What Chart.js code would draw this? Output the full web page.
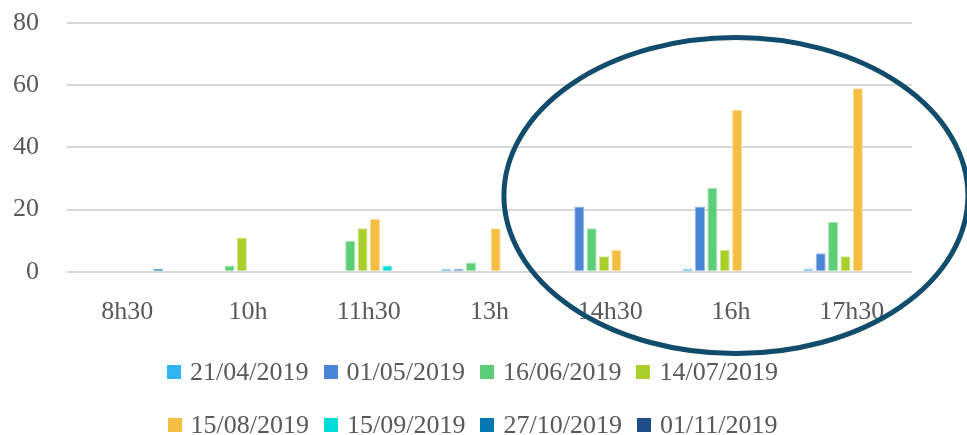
<!DOCTYPE html>
<html>
<head>
<meta charset="utf-8">
<script src="https://cdn.jsdelivr.net/npm/chart.js@4"></script>
<style>
  html, body { margin: 0; padding: 0; background: #ffffff; }
  #wrap { position: relative; width: 967px; height: 435px; overflow: hidden; }
  #legend { position: absolute; left: 0; top: 0; width: 967px; height: 435px; pointer-events: none;
            font-family: "Liberation Serif", serif; font-size: 26px; color: #595959; }
  .lrow { position: absolute; left: 0; width: 945px; display: flex; justify-content: center; line-height: 26px; height: 26px; }
  .litem { display: flex; align-items: center; margin-right: 15px; white-space: nowrap; }
  .litem:last-child { margin-right: 0; }
  .lbox { width: 14px; height: 14px; margin-right: 9px; display: inline-block; }
</style>
</head>
<body>
<div id="wrap">
  <canvas id="c" width="967" height="435"></canvas>
  <div id="legend"></div>
</div>
<script>
// ---- data ----
const categories = ["8h30", "10h", "11h30", "13h", "14h30", "16h", "17h30"];
const seriesLabels = ["21/04/2019", "01/05/2019", "16/06/2019", "14/07/2019",
                      "15/08/2019", "15/09/2019", "27/10/2019", "01/11/2019"];
const s_21_04 = [0, 0, 0, 1, 0, 1, 1];
const s_01_05 = [0, 0, 0, 1, 21, 21, 6];
const s_16_06 = [0, 2, 10, 3, 14, 27, 16];
const s_14_07 = [0, 11, 14, 0, 5, 7, 5];
const s_15_08 = [0, 0, 17, 14, 7, 52, 59];
const s_15_09 = [0, 0, 2, 0, 0, 0, 0];
const s_27_10 = [1, 0, 0, 0, 0, 0, 0];
const s_01_11 = [0, 0, 0, 0, 0, 0, 0];
const yTicks = [0, 20, 40, 60, 80];

const seriesValues = [s_21_04, s_01_05, s_16_06, s_14_07, s_15_08, s_15_09, s_27_10, s_01_11];
const colors = ["#30b4f4", "#4a84d4", "#5cce78", "#a8cf2c", "#f4be43", "#00dcd7", "#0077b5", "#1f4d8a"];

const FONT = "'Liberation Serif', serif";
const TXT = "#595959";

function tint(hex, f) {
  const n = parseInt(hex.slice(1), 16);
  const r = (n >> 16) & 255, g = (n >> 8) & 255, b = n & 255;
  const m = c => Math.round(c + (255 - c) * f);
  return "rgb(" + m(r) + "," + m(g) + "," + m(b) + ")";
}

const ellipsePlugin = {
  id: "highlightEllipse",
  afterDraw(chart) {
    const xs = chart.scales.x, ys = chart.scales.y;
    const ctx = chart.ctx;
    const cx = xs.getPixelForValue(5) + 5;
    const cy = ys.getPixelForValue(24.5);
    ctx.save();
    ctx.beginPath();
    ctx.ellipse(cx, cy, 232, 158, 0, 0, Math.PI * 2);
    ctx.lineWidth = 5;
    ctx.strokeStyle = "#114c6c";
    ctx.stroke();
    ctx.restore();
  }
};

const chart = new Chart(document.getElementById("c"), {
  type: "bar",
  data: {
    labels: categories,
    datasets: seriesLabels.map((lab, i) => ({
      label: lab,
      data: seriesValues[i],
      backgroundColor: colors[i],
      borderColor: tint(colors[i], 0.45),
      borderWidth: 1,
      categoryPercentage: 0.82,
      barPercentage: 0.81
    }))
  },
  options: {
    responsive: false,
    devicePixelRatio: 1,
    animation: false,
    layout: { padding: { left: 13, right: 55, top: 23, bottom: 82 } },
    plugins: {
      legend: { display: false },
      tooltip: { enabled: false }
    },
    scales: {
      x: {
        grid: { display: false, drawTicks: false },
        border: { display: false },
        ticks: { color: TXT, font: { family: FONT, size: 26 }, padding: 25, maxRotation: 0 }
      },
      y: {
        min: 0, max: 80,
        afterBuildTicks(axis) { axis.ticks = yTicks.map(v => ({ value: v })); },
        afterFit(axis) { axis.width = 54; axis.paddingTop = 0; axis.paddingBottom = 0; },
        grid: { color: "#d9d9d9", lineWidth: 2, drawTicks: false },
        border: { display: false },
        ticks: { color: TXT, font: { family: FONT, size: 26 }, padding: 28 }
      }
    }
  },
  plugins: [ellipsePlugin]
});

// HTML legend built from the chart's datasets
(function buildLegend() {
  const leg = document.getElementById("legend");
  const rows = [[0, 1, 2, 3], [4, 5, 6, 7]];
  const centers = [372, 425];
  rows.forEach((idxs, r) => {
    const row = document.createElement("div");
    row.className = "lrow";
    row.style.top = (centers[r] - 13) + "px";
    idxs.forEach(i => {
      const ds = chart.data.datasets[i];
      const it = document.createElement("div");
      it.className = "litem";
      const b = document.createElement("span");
      b.className = "lbox";
      b.style.background = ds.backgroundColor;
      const t = document.createElement("span");
      t.textContent = ds.label;
      it.appendChild(b); it.appendChild(t);
      row.appendChild(it);
    });
    leg.appendChild(row);
  });
})();
</script>
</body>
</html>
